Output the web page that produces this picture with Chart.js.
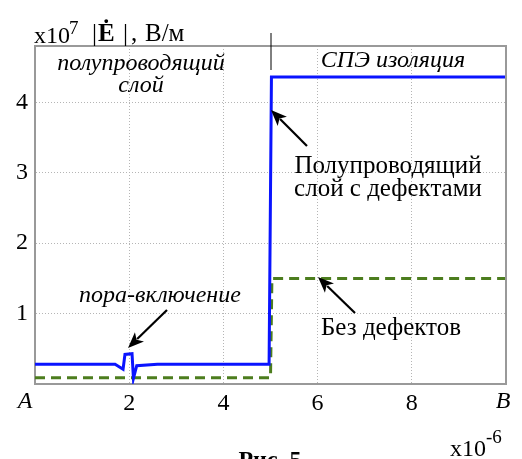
<!DOCTYPE html>
<html>
<head>
<meta charset="utf-8">
<script src="https://cdn.jsdelivr.net/npm/chart.js@4"></script>
<style>
  html, body { margin: 0; padding: 0; background: #fff; }
  #wrap { width: 522px; height: 459px; }
</style>
</head>
<body>
<div id="wrap"><canvas id="fig"></canvas></div>
<script>
// данные (x в единицах 10^-6, y в единицах 10^7 В/м)
const blueX = [0, 1.7, 1.87, 1.91, 2.06, 2.09, 2.16, 2.6, 4.97, 5.02, 10];
const blueY = [0.28, 0.28, 0.21, 0.42, 0.43, 0.08, 0.26, 0.28, 0.28, 4.36, 4.36];
const greenX = [0, 5.0, 5.03, 10];
const greenY = [0.09, 0.09, 1.5, 1.5];
const xTicks = [0, 2, 4, 6, 8, 10];
const xTickLabels = ['A', '2', '4', '6', '8', 'B'];
const yTicks = [1, 2, 3, 4];

const SERIF = '"Liberation Serif", "DejaVu Serif", serif';

const toPoints = (xs, ys) => xs.map((x, i) => ({ x: x, y: ys[i] }));

function arrow(ctx, x1, y1, x2, y2) {
    const ang = Math.atan2(y2 - y1, x2 - x1);
    const len = 16, wid = 6.5;
    ctx.save();
    ctx.strokeStyle = '#000';
    ctx.fillStyle = '#000';
    ctx.lineWidth = 2.2;
    ctx.beginPath();
    ctx.moveTo(x1, y1);
    ctx.lineTo(x2 - Math.cos(ang) * len * 0.8, y2 - Math.sin(ang) * len * 0.8);
    ctx.stroke();
    ctx.beginPath();
    ctx.moveTo(x2, y2);
    ctx.lineTo(x2 - Math.cos(ang) * len + Math.sin(ang) * wid, y2 - Math.sin(ang) * len - Math.cos(ang) * wid);
    ctx.lineTo(x2 - Math.cos(ang) * len * 0.75, y2 - Math.sin(ang) * len * 0.75);
    ctx.lineTo(x2 - Math.cos(ang) * len - Math.sin(ang) * wid, y2 - Math.sin(ang) * len + Math.cos(ang) * wid);
    ctx.closePath();
    ctx.fill();
    ctx.restore();
}

const decor = {
    id: 'decor',
    afterDraw(chart) {
        const ctx = chart.ctx;
        const a = chart.chartArea;
        const sx = chart.scales.x;
        ctx.save();
        // рамка сверху и справа
        ctx.strokeStyle = '#999';
        ctx.lineWidth = 2;
        ctx.beginPath();
        ctx.moveTo(a.left, a.top);
        ctx.lineTo(a.right, a.top);
        ctx.lineTo(a.right, a.bottom);
        ctx.stroke();

        // граница слоёв
        const xs = sx.getPixelForValue(5);
        ctx.strokeStyle = '#000';
        ctx.lineWidth = 1;
        ctx.beginPath();
        ctx.moveTo(xs + 0.5, 33);
        ctx.lineTo(xs + 0.5, 70);
        ctx.stroke();

        ctx.fillStyle = '#000';
        ctx.textBaseline = 'alphabetic';

        // заголовок оси Y
        ctx.textAlign = 'left';
        ctx.font = '24px ' + SERIF;
        ctx.fillText('x10', 34, 43);
        ctx.font = '19px ' + SERIF;
        ctx.fillText('7', 69, 34);
        ctx.font = '25px ' + SERIF;
        ctx.fillText('|', 92, 41);
        ctx.fillText('|', 123, 41);
        ctx.fillText(',', 131, 41);
        ctx.fillText('В/м', 145, 41);
        ctx.font = 'bold 25px ' + SERIF;
        ctx.fillText('Ė', 98, 41);

        // крайние подписи оси X
        ctx.textAlign = 'center';
        ctx.textBaseline = 'middle';
        ctx.font = 'italic 24px ' + SERIF;
        ctx.fillText(xTickLabels[0], sx.getPixelForValue(xTicks[0]) - 10, 402);
        ctx.fillText(xTickLabels[xTickLabels.length - 1], sx.getPixelForValue(xTicks[xTicks.length - 1]) - 3, 402);
        ctx.textBaseline = 'alphabetic';

        // надписи
        ctx.font = 'italic 24px ' + SERIF;
        ctx.fillText('полупроводящий', 141, 70);
        ctx.fillText('слой', 141, 92);
        ctx.fillText('СПЭ изоляция', 393, 67);
        ctx.fillText('пора-включение', 160, 302);

        ctx.font = '25px ' + SERIF;
        ctx.fillText('Полупроводящий', 388, 173);
        ctx.fillText('слой с дефектами', 388, 196);
        ctx.fillText('Без дефектов', 391, 335);

        arrow(ctx, 307, 146, 271, 110);
        arrow(ctx, 355, 313, 318, 277);
        arrow(ctx, 167, 310, 128, 348);

        // множитель оси X
        ctx.textAlign = 'left';
        ctx.font = '24px ' + SERIF;
        ctx.fillText('x10', 450, 456);
        const w = ctx.measureText('x10').width;
        ctx.font = '19px ' + SERIF;
        ctx.fillText('-6', 450 + w, 443);

        // подпись рисунка
        ctx.textAlign = 'center';
        ctx.font = 'bold 24px ' + SERIF;
        ctx.fillText('Рис. 5', 270, 467);
        ctx.restore();
    }
};

new Chart(document.getElementById('fig'), {
    type: 'line',
    data: {
        datasets: [
            {
                data: toPoints(blueX, blueY),
                borderColor: '#0a14ff',
                borderWidth: 3,
                pointRadius: 0,
                tension: 0,
                fill: false
            },
            {
                data: toPoints(greenX, greenY),
                borderColor: '#4c7d1e',
                borderWidth: 3,
                borderDash: [10, 6],
                pointRadius: 0,
                tension: 0,
                fill: false
            }
        ]
    },
    options: {
        responsive: true,
        maintainAspectRatio: false,
        animation: false,
        layout: { padding: { top: 46, right: 16, left: 0, bottom: 0 } },
        plugins: { legend: { display: false }, tooltip: { enabled: false } },
        scales: {
            x: {
                type: 'linear',
                min: 0,
                max: 10,
                afterFit: s => { s.height = 75; },
                afterBuildTicks: s => { s.ticks = xTicks.map(v => ({ value: v })); },
                ticks: {
                    padding: 5,
                    color: '#000',
                    maxRotation: 0,
                    autoSkip: false,
                    // A и B рисуются отдельно, со сдвигом
                    callback: v => (v === xTicks[0] || v === xTicks[xTicks.length - 1]) ? '' : (xTickLabels[xTicks.indexOf(v)] ?? ''),
                    font: { family: SERIF, size: 24 }
                },
                grid: { color: '#b5b5b5', drawTicks: false, lineWidth: 1 },
                border: { color: '#999', width: 2, dash: [1, 2] }
            },
            y: {
                min: 0,
                max: 4.8,
                afterFit: s => { s.width = 35; },
                afterBuildTicks: s => { s.ticks = [0].concat(yTicks).map(v => ({ value: v })); },
                ticks: {
                    padding: 7,
                    color: '#000',
                    callback: v => yTicks.includes(v) ? String(v) : '',
                    font: { family: SERIF, size: 24 }
                },
                grid: { color: '#b5b5b5', drawTicks: false, lineWidth: 1 },
                border: { color: '#999', width: 2, dash: [1, 2] }
            }
        }
    },
    plugins: [decor]
});
</script>
</body>
</html>
